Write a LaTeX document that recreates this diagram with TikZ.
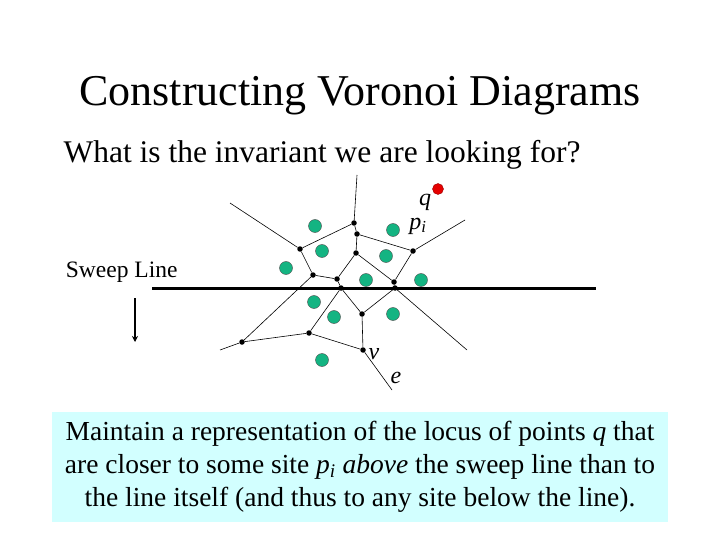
\documentclass[tikz,border=0pt]{standalone}
\usepackage{fontspec}
\setmainfont{Liberation Serif}
\usetikzlibrary{positioning,arrows.meta}
\definecolor{sitegreen}{RGB}{20,180,130}
\definecolor{boxcyan}{RGB}{210,255,255}
\begin{document}
\begin{tikzpicture}[x=1pt,y=-1pt,
    vert/.style={circle, fill=black, inner sep=0pt, minimum size=5.5pt},
    site/.style={circle, draw=black!70, fill=sitegreen, line width=0.4pt, inner sep=0pt, minimum size=13pt},
    edge/.style={line width=0.6pt},
    lbl/.style={font=\itshape\fontsize{24}{26}\selectfont, inner sep=0pt},
]
    \useasboundingbox (0,0) rectangle (720,540);
    % title and question
    \node (title) at (360,96) {\fontsize{44}{48}\selectfont Constructing Voronoi Diagrams};
    \node[anchor=west] (quest) at (60,155) {\fontsize{31.5}{34}\selectfont What is the invariant we are looking for?};
    % voronoi vertices
    \node[vert] (a) at (354,223) {};
    \node[vert] (b) at (357,234) {};
    \node[vert] (c) at (300,249) {};
    \node[vert] (d) at (413,251) {};
    \node[vert] (e) at (356,253) {};
    \node[vert] (f) at (313,275) {};
    \node[vert] (g) at (337,279) {};
    \node[vert] (h) at (341,288) {};
    \node[vert] (i) at (394,282) {};
    \node[vert] (j) at (395,288) {};
    \node[vert] (k) at (362,314) {};
    \node[vert] (l) at (309,333) {};
    \node[vert] (m) at (242,342) {};
    \node[vert] (n) at (363,350) {};
    % free ends
    \coordinate (ta) at (357,175);
    \coordinate (tc) at (230,203);
    \coordinate (td) at (465,220);
    \coordinate (tm) at (220,350);
    \coordinate (tj) at (467,350);
    \coordinate (tn) at (392,390);
    % edges
    \foreach \u/\v in {a/ta,a/b,a/c,c/tc,b/d,b/e,d/td,d/i,e/g,e/i,c/f,f/g,g/h,f/m,i/j,h/k,j/k,k/n,h/l,l/m,l/n,m/tm,j/tj,n/tn}
        \draw[edge] (\u) -- (\v);
    % sweep line
    \draw[line width=3pt] (152,288) -- (596,288);
    \node[anchor=east] (sweep) at (181,272) {\fontsize{23.5}{26}\selectfont Sweep Line};
    \coordinate (arrtop) at (135,298);
    \coordinate (arrbot) at (135,342);
    \draw[line width=1.5pt, -{Stealth[length=6pt,width=6pt]}] (arrtop) -- (arrbot);
    % sites
    \foreach \x/\y in {315/226,393/230,322/251,386/256,286/268,366/280,421/280,314/302,334/317,393/314,322/360}
        \node[site] at (\x,\y) {};
    \node[circle, fill=red!90!black, draw=red!60!black, inner sep=0pt, minimum size=11pt] (q) at (438,189) {};
    % labels
    \node[lbl] (ql) at (425,202) {q};
    \node[lbl] (pl) at (418,226) {p\textsubscript{i}};
    \node[lbl] (vl) at (374,354) {v};
    \node[lbl] (el) at (396,378) {e};
    % box
    \node[fill=boxcyan, minimum width=616pt, minimum height=110pt, align=center, inner sep=0pt,
          font=\fontsize{27.5}{33}\selectfont] (box) at (360,467)
        {Maintain a representation of the locus of points \textit{q} that\\
         are closer to some site \textit{p\textsubscript{i} above} the sweep line than to\\
         the line itself (and thus to any site below the line).};
\end{tikzpicture}
\end{document}
